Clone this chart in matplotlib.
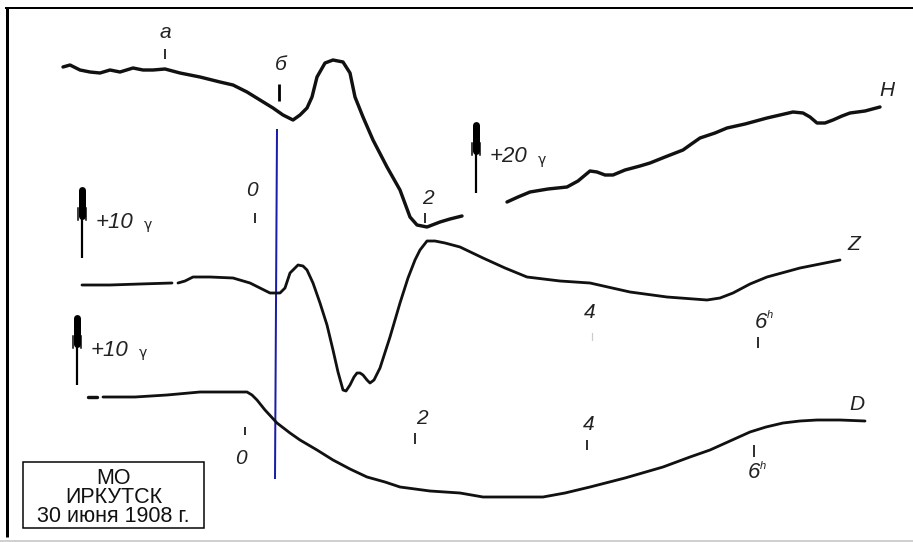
import matplotlib.pyplot as plt
from matplotlib.patches import Rectangle

# Magnetogram traces (pixel coordinates of the original sheet)
h1_x = [63, 70, 80, 90, 100, 110, 120, 133, 143, 153, 165, 180, 200, 220, 233, 247,
        260, 273, 283, 293, 300, 307, 312, 317, 325, 333, 343, 350, 355, 363, 373,
        387, 400, 410, 417, 427, 440, 450, 462]
h1_y = [67, 65, 70, 72, 73, 70, 72, 68, 70, 70, 69, 73, 77, 82, 85, 92,
        100, 108, 115, 120, 115, 108, 97, 77, 63, 60, 62, 73, 97, 117, 140,
        167, 190, 217, 225, 227, 222, 219, 216]
h2_x = [507, 518, 530, 548, 567, 578, 590, 597, 605, 613, 625, 640, 650, 665, 683,
        690, 700, 715, 727, 745, 767, 780, 793, 803, 810, 817, 825, 833, 842, 850,
        865, 880]
h2_y = [202, 197, 192, 189, 187, 181, 171, 172, 175, 175, 170, 166, 163, 157, 150,
        145, 138, 133, 128, 124, 118, 115, 112, 113, 117, 123, 123, 120, 116, 113,
        111, 107]

z1_x = [82, 110, 140, 172]
z1_y = [285, 285, 284, 283]
z2_x = [178, 185, 193, 210, 233, 250, 260, 270, 280, 285, 290, 298, 303, 307, 313,
        320, 327, 333, 338, 343, 346, 350, 354, 357, 360, 363, 367, 370, 374, 380,
        390, 400, 408, 415, 420, 427, 435, 445, 460, 483, 505, 527, 560, 590, 630,
        667, 707, 720, 733, 750, 767, 800, 820, 840]
z2_y = [283, 281, 277, 277, 278, 283, 288, 293, 293, 288, 273, 265, 266, 270, 283,
        303, 325, 350, 372, 390, 391, 385, 377, 373, 373, 375, 380, 383, 380, 368,
        337, 303, 278, 260, 250, 241, 241, 243, 247, 258, 268, 277, 281, 283, 292,
        297, 300, 298, 293, 284, 277, 268, 264, 260]

d1_x = [88, 97]
d1_y = [397, 397]
d2_x = [103, 135, 167, 200, 230, 247, 252, 257, 265, 277, 290, 300, 317, 333, 350,
        367, 385, 400, 430, 460, 483, 510, 543, 565, 590, 625, 663, 690, 710, 730,
        750, 766, 783, 800, 817, 840, 865]
d2_y = [397, 397, 395, 392, 392, 392, 395, 400, 410, 423, 433, 440, 450, 460, 469,
        477, 482, 487, 491, 493, 497, 497, 497, 493, 487, 478, 467, 457, 450, 441,
        432, 427, 423, 421, 420, 420, 421]

# Time marks: (x, y_top, y_bottom)
tick_marks = [(165, 49, 59), (255, 213, 223), (425, 213, 223), (758, 337, 348),
              (245, 427, 435), (415, 433, 444), (587, 440, 450), (754, 445, 457)]
mark_labels = [('а', 165, 33), ('0', 252, 190), ('2', 428, 198), ('4', 590, 313),
               ('0', 241, 459), ('2', 422, 419), ('4', 589, 424)]
hour_labels = [(761, 322), (754, 473)]
comp_labels = [('H', 887, 91), ('Z', 854, 244), ('D', 857, 405)]

# scale arrows: (x, top, bottom, text)
arrows = [(82, 190, 258, '+10'), (476, 125, 193, '+20'), (77, 318, 385, '+10')]

station = ['МО', 'ИРКУТСК', '30 июня 1908 г.']

W, H = 913, 542
px = 0.72  # pixel -> point at dpi 100

fig = plt.figure(figsize=(W / 100, H / 100), dpi=100)
ax = fig.add_axes([0, 0, 1, 1])
ax.set_xlim(0, W)
ax.set_ylim(H, 0)
ax.axis('off')

# sheet frame
ax.plot([6.5, 6.5], [7, 537], color='black', lw=3 * px, solid_capstyle='butt')
ax.plot([5, W], [8, 8], color='black', lw=2 * px, solid_capstyle='butt')
ax.plot([0, W], [540.5, 540.5], color='#d0d0d0', lw=2 * px)

# blue reference line
ax.plot([277, 275], [130, 478], color='#1c1ca8', lw=2 * px, zorder=1)

# traces
trace = dict(color='#111111', solid_joinstyle='round', solid_capstyle='round')
ax.plot(h1_x, h1_y, lw=3.4 * px, **trace)
ax.plot(h2_x, h2_y, lw=3.4 * px, **trace)
ax.plot(z1_x, z1_y, lw=2.8 * px, **trace)
ax.plot(z2_x, z2_y, lw=2.8 * px, **trace)
ax.plot(d1_x, d1_y, lw=3.4 * px, **trace)
ax.plot(d2_x, d2_y, lw=2.8 * px, **trace)

# marks
for x, y0, y1 in tick_marks:
    ax.plot([x, x], [y0, y1], color='black', lw=1.6 * px, solid_capstyle='butt')
ax.plot([279, 279], [84, 101], color='black', lw=2.8 * px, solid_capstyle='butt')
ax.plot([592, 592], [333, 340], color='#cccccc', lw=1.2 * px)

font = dict(family='Liberation Sans', style='italic', color='#222222')
for t, x, y in mark_labels:
    ax.text(x, y, t, fontsize=15, ha='center', va='center', **font)
ax.text(281, 65, 'б', fontsize=15, ha='center', va='center', **font)
for x, y in hour_labels:
    ax.text(x, y, '6', fontsize=16, ha='center', va='center', **font)
    ax.text(x + 9, y - 7, 'h', fontsize=8, ha='center', va='center', **font)
for t, x, y in comp_labels:
    ax.text(x, y, t, fontsize=15, ha='center', va='center', **font)

for x, top, bot, t in arrows:
    ax.plot([x, x], [top + 20, bot], color='black', lw=2.2 * px, solid_capstyle='butt')
    ax.plot([x, x], [top, top + 26], color='black', lw=7 * px, solid_capstyle='round')
    ax.plot([x - 4, x - 4], [top + 18, top + 30], color='black', lw=1.5 * px)
    ax.plot([x + 4, x + 4], [top + 18, top + 30], color='black', lw=1.5 * px)
    ax.text(x + 14, top + 32, t, fontsize=16, ha='left', va='center', **font)
    ax.text(x + 62, top + 35, 'γ', fontsize=10, ha='left', va='center',
            family='DejaVu Sans', color='#222222')

# station box
ax.add_patch(Rectangle((23, 462), 181, 66, fill=False, ec='black', lw=1.5 * px))
for i, line in enumerate(station):
    ax.text(113.5, 478 + i * 19.5, line, fontsize=15.5, ha='center', va='center',
            family='Liberation Sans', color='#111111')

fig.savefig('out.png', dpi=100)
